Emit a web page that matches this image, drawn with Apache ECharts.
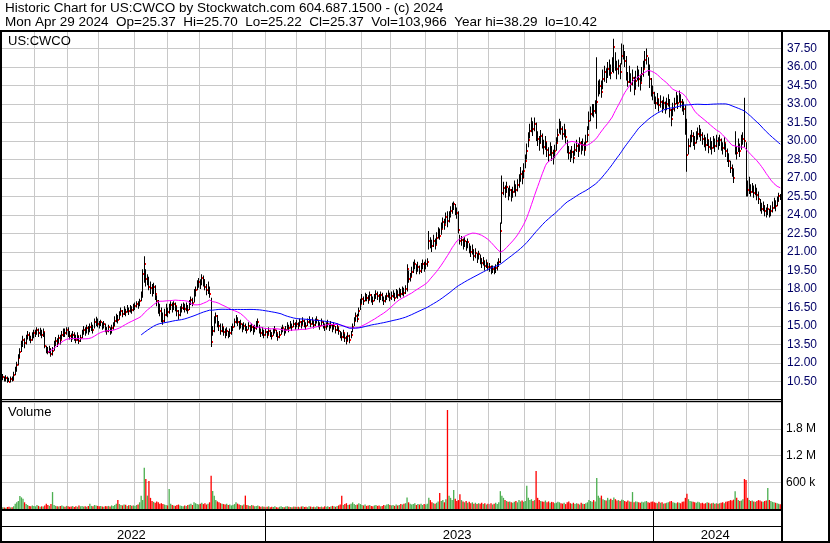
<!DOCTYPE html>
<html><head><meta charset="utf-8">
<script src="https://cdn.jsdelivr.net/npm/echarts@6/dist/echarts.min.js"></script>
<style>html,body{margin:0;padding:0;background:#fff}#c{width:830px;height:543px}</style>
</head><body><div id="c"></div>
<script>
// ---- calendar (trading days) ----
const firstDay = '2022-05-02', lastDay = '2024-04-29';
const holidays = ['2022-05-30','2022-06-20','2022-07-04','2022-09-05','2022-11-24','2022-12-26',
 '2023-01-02','2023-01-16','2023-02-20','2023-04-07','2023-05-29','2023-06-19','2023-07-04','2023-09-04','2023-11-23','2023-12-25',
 '2024-01-01','2024-01-15','2024-02-19','2024-03-29'];
const yearLabels = ['2022','2023','2024'];
const priceTicks = {min: 9, max: 39, step: 1.5};
const volumeTicks = {min: 0, max: 2400000, step: 600000};

// ---- daily values, one row per month ----
const closePx = [
10.9,10.7,10.8,10.6,10.5,10.7,10.6,11.0,11.4,11.8,12.4,12.9,13.4,13.9,13.6,14.0,14.3,14.1,13.9,14.2,14.4,
14.5,14.7,14.4,14.6,14.3,14.5,13.4,13.0,12.9,13.1,12.7,13.0,13.5,13.8,13.6,14.0,13.9,14.3,14.5,14.4,14.7,
14.5,14.2,14.0,14.3,14.1,13.9,14.2,13.8,14.0,14.4,14.7,14.5,14.8,14.6,14.9,15.0,14.7,15.3,15.5,15.2,
15.1,15.3,14.9,15.2,14.8,14.6,14.9,14.5,14.8,15.0,15.4,15.7,15.5,15.9,16.2,16.0,16.3,16.1,16.4,16.2,16.5,16.3,16.5,
16.6,16.8,16.7,17.0,17.4,19.2,20.0,18.8,18.9,18.2,18.1,17.9,18.2,17.6,17.0,16.6,16.2,15.8,15.4,15.9,16.3,
16.1,16.5,16.7,16.4,16.8,16.6,16.2,15.9,16.3,16.5,16.7,16.4,16.6,16.3,16.8,17.1,16.9,17.5,17.9,18.3,18.6,
18.4,18.9,18.7,18.2,17.9,18.1,17.6,13.7,14.6,15.5,15.8,15.3,15.0,14.6,14.9,14.5,14.3,14.6,14.2,14.4,14.7,
14.9,15.3,15.6,15.3,15.0,15.2,14.8,15.0,14.9,14.7,15.0,14.8,14.9,14.6,14.8,15.1,15.3,14.7,14.4,14.6,14.3,
14.5,14.3,14.6,14.4,14.2,14.5,14.7,14.4,14.1,14.3,14.6,14.8,14.5,14.7,15.0,14.8,15.1,14.9,15.2,15.0,
15.2,15.0,15.3,15.1,15.4,15.2,15.0,15.3,15.5,15.2,15.4,15.1,15.3,15.5,15.2,15.0,15.3,15.1,14.9,
15.0,15.2,14.9,15.1,14.8,15.0,14.7,14.9,14.6,14.3,14.1,14.4,14.0,13.8,14.2,13.9,14.3,14.9,15.4,15.8,15.6,16.2,16.8,
17.2,17.0,17.4,17.3,17.1,17.5,17.2,17.0,17.3,17.6,17.4,17.2,17.5,17.3,17.0,17.2,17.4,17.6,17.3,
17.4,17.6,17.3,17.7,17.5,17.8,17.6,17.9,17.7,18.0,19.6,18.8,19.0,19.4,19.8,20.0,19.6,19.8,19.5,19.7,20.0,19.8,
20.0,20.2,21.9,21.7,21.5,21.9,21.6,22.1,22.6,22.3,22.9,23.4,23.2,23.8,23.5,23.9,24.3,24.6,24.9,24.5,24.2,
22.8,21.9,22.0,21.6,21.9,21.5,21.8,21.3,21.0,21.2,20.7,20.9,20.5,20.8,20.4,20.1,20.3,19.9,20.1,19.8,
19.8,19.5,19.6,19.4,19.7,19.9,20.2,22.7,25.8,26.2,25.9,26.3,25.7,26.0,25.6,25.9,26.3,26.0,26.4,26.8,27.3,27.0,27.6,
28.4,29.2,30.1,30.8,31.3,31.0,31.4,30.4,30.2,29.8,30.4,30.0,29.5,29.9,29.3,28.9,29.4,29.0,28.7,29.2,
29.8,30.5,31.2,31.0,30.6,30.9,30.3,29.5,29.0,28.7,29.1,28.6,29.3,29.6,29.2,29.8,29.4,29.7,29.3,29.9,30.5,31.6,
32.2,32.6,32.4,32.8,33.2,34.2,34.5,34.0,35.0,35.6,35.2,35.8,36.0,35.5,36.2,37.6,36.4,35.8,36.1,35.6,36.9,
37.2,36.5,35.4,34.8,35.3,34.6,35.1,34.2,34.9,35.5,35.0,34.7,35.4,35.8,36.6,36.9,35.9,35.0,34.2,33.9,
33.5,33.1,33.4,32.9,33.2,32.8,33.1,32.7,33.0,33.3,32.5,31.8,32.6,33.0,33.5,33.1,33.6,33.2,32.9,32.6,31.0,
28.9,29.6,30.0,30.4,30.1,29.8,30.3,30.6,30.9,30.5,30.2,30.0,29.7,30.1,29.5,29.8,29.4,29.9,29.6,30.0,
29.8,30.1,29.7,29.4,29.8,29.2,28.8,28.4,27.8,27.6,27.0,29.4,29.0,29.6,29.2,29.9,30.2,30.0,26.4,26.0,
26.3,25.9,26.2,25.8,26.0,25.6,25.3,24.8,24.5,24.7,24.3,24.1,24.5,24.0,24.3,24.6,24.9,24.7,25.1,25.5,25.37];
const highPx = [
11.1,10.9,11.0,10.9,10.8,10.9,10.9,11.3,11.7,12.1,12.7,13.2,13.8,14.2,14.0,14.3,14.6,14.5,14.2,14.5,14.7,
14.7,14.9,14.8,14.85,14.7,14.8,14.5,13.4,13.3,13.4,13.2,13.3,13.8,14.1,14.0,14.3,14.3,14.6,14.8,14.8,14.9,
14.9,14.6,14.4,14.6,14.5,14.3,14.5,14.2,14.3,14.7,15.0,14.9,15.1,15.0,15.2,15.3,15.1,15.6,15.75,15.6,
15.4,15.5,15.3,15.4,15.2,14.9,15.1,14.9,15.1,15.3,15.8,16.0,15.9,16.2,16.5,16.3,16.6,16.4,16.7,16.5,16.7,16.6,16.8,
16.9,17.0,17.0,17.2,17.8,19.6,20.65,19.6,19.2,19.0,18.6,18.4,18.5,18.3,17.5,17.1,16.8,16.5,16.1,16.4,16.8,
16.5,16.8,17.0,16.9,17.0,16.9,16.6,16.3,16.6,16.8,16.9,16.8,16.9,16.7,17.1,17.4,17.3,18.0,18.2,18.7,18.9,
18.8,19.2,19.1,18.8,18.4,18.6,18.2,17.3,15.0,15.8,16.1,15.9,15.4,15.2,15.2,14.9,14.8,14.9,14.6,14.8,15.0,
15.2,15.6,15.9,15.7,15.4,15.5,15.2,15.3,15.2,15.0,15.3,15.1,15.2,15.0,15.1,15.4,15.6,15.1,14.8,14.9,14.7,
14.8,14.6,14.9,14.7,14.5,14.8,15.0,14.7,14.4,14.6,14.9,15.1,14.8,15.0,15.3,15.1,15.4,15.2,15.5,15.3,
15.5,15.3,15.6,15.4,15.7,15.5,15.3,15.6,15.8,15.5,15.7,15.4,15.6,15.8,15.5,15.3,15.6,15.4,15.2,
15.3,15.5,15.2,15.4,15.1,15.3,15.0,15.2,14.9,14.6,14.5,14.7,14.4,14.2,14.5,14.3,14.6,15.2,15.7,16.1,16.0,16.5,17.2,
17.6,17.4,17.7,17.6,17.5,17.8,17.6,17.4,17.6,17.9,17.8,17.6,17.8,17.7,17.4,17.5,17.7,17.9,17.7,
17.8,17.9,17.7,18.0,17.9,18.1,18.0,18.2,18.1,18.3,20.0,19.5,19.3,19.8,20.2,20.4,20.0,20.2,19.9,20.1,20.4,20.2,
20.4,20.5,22.7,22.2,22.0,22.4,22.1,22.6,23.0,22.9,23.4,23.8,23.7,24.2,24.3,24.3,24.7,25.0,25.1,24.9,24.6,
24.3,22.4,22.3,22.1,22.2,21.9,22.1,21.7,21.5,21.6,21.2,21.3,20.9,21.1,20.8,20.5,20.6,20.3,20.4,20.1,
20.1,19.9,19.9,19.8,20.0,20.2,20.5,23.4,27.2,26.7,26.4,26.7,26.2,26.4,26.1,26.3,26.8,26.5,26.9,27.3,27.9,27.6,28.2,
28.9,29.8,30.7,31.4,31.9,31.6,31.9,31.5,30.8,30.4,30.9,30.6,30.1,30.4,29.9,29.5,29.9,29.6,29.3,29.7,
30.3,31.0,31.8,31.6,31.2,31.4,30.9,30.1,29.6,29.3,29.6,29.2,29.8,30.1,29.8,30.3,30.0,30.2,29.9,30.5,31.2,32.4,
32.8,33.0,33.0,33.3,36.8,34.9,35.0,34.9,35.8,36.1,35.9,36.4,36.6,36.2,36.8,38.29,37.2,36.5,36.6,36.3,37.9,
37.8,37.3,36.9,35.6,36.1,35.5,35.8,35.2,35.7,36.1,35.8,35.4,36.0,36.5,37.3,37.5,36.8,36.2,35.1,34.5,
34.0,33.6,33.9,33.4,33.7,33.3,33.6,33.2,33.5,33.8,33.4,32.6,33.1,33.5,34.0,33.7,34.1,33.8,33.4,33.2,32.9,
31.8,30.2,30.5,30.9,30.7,30.4,30.8,31.1,31.3,31.0,30.7,30.5,30.3,30.6,30.1,30.3,30.0,30.4,30.2,30.5,
30.3,30.5,30.2,29.9,30.3,29.8,29.4,29.0,28.4,28.1,27.8,30.8,29.6,30.2,29.8,30.5,30.7,33.5,29.9,26.8,
27.1,26.5,26.6,26.4,26.5,26.2,25.9,25.3,25.0,25.1,24.8,24.6,24.9,24.5,24.8,25.1,25.4,25.2,25.5,25.8,25.70];
const lowPx = [
10.6,10.5,10.5,10.4,10.45,10.42,10.5,10.6,11.0,11.3,11.8,12.4,12.9,13.3,13.2,13.5,13.9,13.8,13.6,13.8,14.0,
14.1,14.3,14.1,14.2,14.0,14.1,13.2,12.8,12.7,12.8,12.5,12.6,13.0,13.4,13.3,13.6,13.5,13.9,14.1,14.1,14.3,
14.1,13.9,13.7,13.9,13.8,13.6,13.8,13.55,13.7,14.0,14.3,14.2,14.4,14.3,14.5,14.6,14.4,14.8,15.0,14.9,
14.8,15.0,14.7,14.8,14.5,14.3,14.5,14.3,14.4,14.7,15.0,15.3,15.2,15.5,15.9,15.7,15.9,15.8,16.1,15.9,16.1,16.0,16.2,
16.3,16.5,16.4,16.6,17.0,17.3,18.5,18.2,18.3,17.9,17.6,17.4,17.6,17.1,16.6,16.0,15.8,15.3,15.1,15.3,15.8,
15.7,16.0,16.3,16.1,16.3,16.2,15.8,15.5,15.8,16.1,16.3,16.1,16.2,16.0,16.3,16.7,16.6,16.9,17.4,17.9,18.1,
18.0,18.3,18.2,17.9,17.5,17.6,17.3,13.3,14.2,14.5,15.2,14.9,14.6,14.3,14.5,14.2,14.0,14.2,14.0,14.1,14.3,
14.6,14.9,15.2,15.0,14.7,14.8,14.5,14.7,14.6,14.4,14.7,14.5,14.6,14.3,14.5,14.7,14.9,14.4,14.1,14.2,14.0,
14.2,14.0,14.3,14.1,13.9,14.2,14.4,14.1,13.8,14.0,14.3,14.5,14.2,14.4,14.7,14.5,14.8,14.6,14.9,14.7,
14.9,14.7,15.0,14.8,15.1,14.9,14.7,15.0,15.2,14.9,15.1,14.8,15.0,15.2,14.9,14.7,15.0,14.8,14.6,
14.7,14.9,14.6,14.8,14.5,14.7,14.4,14.6,14.3,14.0,13.8,14.0,13.7,13.5,13.8,13.6,14.0,14.5,15.0,15.4,15.3,15.8,16.3,
16.8,16.7,17.0,17.0,16.8,17.1,16.9,16.7,17.0,17.2,17.1,16.9,17.1,17.0,16.7,16.9,17.1,17.3,17.0,
17.1,17.3,17.0,17.3,17.2,17.4,17.3,17.5,17.4,17.6,17.8,18.5,18.6,19.0,19.3,19.6,19.2,19.4,19.2,19.3,19.6,19.4,
19.6,19.8,21.2,21.3,21.0,21.4,21.2,21.6,22.1,22.0,22.4,22.9,22.8,23.3,23.0,23.4,23.8,24.1,24.4,24.0,23.7,
22.5,21.6,21.5,21.2,21.4,21.1,21.3,20.9,20.6,20.8,20.3,20.5,20.1,20.4,20.0,19.7,19.9,19.5,19.7,19.5,
19.4,19.2,19.3,19.2,19.3,19.5,19.8,20.1,23.3,25.6,25.4,25.8,25.2,25.5,25.1,25.4,25.8,25.5,25.9,26.2,26.7,26.5,27.0,
27.8,28.5,29.5,30.2,30.7,30.4,30.8,30.0,29.6,29.2,29.8,29.4,28.9,29.3,28.7,28.3,28.8,28.4,28.1,28.6,
29.2,29.9,30.6,30.5,30.1,30.3,29.8,29.0,28.5,28.3,28.6,28.2,28.8,29.1,28.7,29.2,28.9,29.2,28.8,29.3,29.9,30.9,
31.6,32.0,31.9,32.2,31.0,33.6,33.8,33.5,34.2,34.8,34.7,35.1,35.3,35.0,35.6,35.5,35.7,35.0,35.4,35.0,36.2,
36.6,36.0,34.9,34.4,34.7,34.0,34.5,33.7,34.2,34.9,34.4,34.1,34.8,35.2,35.9,36.2,35.3,34.3,33.6,33.3,
33.0,32.6,32.9,32.4,32.7,32.3,32.6,32.2,32.5,32.8,31.9,31.2,32.0,32.4,33.0,32.6,33.1,32.7,32.4,32.1,30.5,
27.5,28.9,29.5,29.9,29.6,29.3,29.8,30.1,30.3,30.0,29.7,29.5,29.2,29.6,29.0,29.3,28.9,29.4,29.1,29.5,
29.3,29.6,29.2,28.9,29.3,28.7,28.3,27.9,27.4,27.1,26.6,28.9,28.5,29.1,28.7,29.3,29.7,29.5,25.5,25.5,
25.7,25.5,25.8,25.4,25.6,25.2,24.9,24.3,24.1,24.3,23.9,23.8,24.0,23.8,23.9,24.2,24.5,24.3,24.7,25.1,25.22];
// volume in thousands of shares
const volumeK = [
40,35,30,45,50,35,40,60,120,150,180,290,260,230,150,110,90,70,60,80,70,
60,90,70,50,60,55,80,120,90,70,110,380,90,70,60,55,70,80,60,50,70,
60,50,55,70,45,60,50,80,60,70,55,60,50,65,120,70,60,90,80,70,
60,70,55,50,65,60,70,55,80,65,90,120,200,110,90,80,100,95,70,85,90,75,80,
70,90,100,150,300,200,926,673,300,628,250,180,160,140,170,150,120,130,110,100,90,
80,449,120,90,80,70,90,100,80,70,60,80,70,90,100,120,90,150,130,110,100,
120,140,110,130,100,120,150,747,404,300,200,170,150,130,120,110,100,120,90,100,80,
90,110,150,120,100,90,80,100,300,90,80,70,90,80,60,70,80,60,50,60,50,
40,50,60,40,50,45,60,40,35,50,60,45,40,55,60,50,45,40,55,50,
45,50,40,55,60,45,50,40,60,55,45,50,40,60,50,45,55,40,60,
50,60,45,55,70,60,50,65,80,100,300,90,110,130,90,100,120,150,110,90,100,130,110,
90,80,100,70,80,90,70,60,80,90,70,80,60,70,90,80,100,110,90,
80,90,70,100,80,90,110,100,120,130,260,150,120,100,110,130,90,110,100,120,90,110,
100,120,250,200,150,130,120,140,170,360,180,200,150,220,2220,300,250,200,426,230,180,
200,330,200,170,150,180,140,160,130,150,120,140,110,130,120,140,110,130,100,120,
110,130,100,120,140,110,150,400,300,250,200,180,160,170,150,140,160,180,150,200,170,190,160,
180,520,250,200,220,180,200,850,250,200,180,170,160,190,150,170,140,160,150,130,
140,160,150,130,120,140,110,150,170,130,120,140,110,130,120,100,140,120,110,130,150,200,
180,160,200,170,695,300,250,300,220,200,190,250,210,230,200,260,220,190,200,180,210,
200,180,160,190,170,160,380,150,170,160,150,140,160,150,170,180,150,140,160,170,
150,140,130,160,140,150,120,130,140,150,170,180,150,140,130,150,140,130,160,170,250,
340,220,180,170,160,150,140,160,150,130,140,120,130,150,140,120,130,140,120,130,
120,130,140,150,130,160,170,180,200,190,210,400,250,200,180,190,220,673,650,250,
200,180,190,170,160,180,200,190,170,160,180,190,470,200,180,160,150,140,130,120,103.966];

// ---- build categories ----
const days = [];
(function(){
  const hs = new Set(holidays);
  const d = new Date(firstDay + 'T12:00:00Z'), end = new Date(lastDay + 'T12:00:00Z');
  while (d <= end) {
    const wd = d.getUTCDay(), s = d.toISOString().slice(0,10);
    if (wd !== 0 && wd !== 6 && !hs.has(s)) days.push(s);
    d.setUTCDate(d.getUTCDate() + 1);
  }
})();
const N = Math.min(days.length, closePx.length);
const monthStart = new Set();
for (let i = 1; i < N; i++) if (days[i].slice(0,7) !== days[i-1].slice(0,7)) monthStart.add(i);

function sma(arr, n) {
  return arr.map((v, i) => {
    if (i < n - 1) return null;
    let s = 0; for (let k = i - n + 1; k <= i; k++) s += arr[k];
    return +(s / n).toFixed(3);
  });
}
const ma30 = sma(closePx.slice(0, N), 30);
const ma90 = sma(closePx.slice(0, N), 90);

const ohlc = [];
for (let i = 0; i < N; i++) ohlc.push([i, lowPx[i], highPx[i], closePx[i]]);
const RED = '#ff0000', GREEN = '#4caf50', GRAY = '#a0a0a0';
const volData = [];
for (let i = 0; i < N; i++) {
  const up = i === 0 || closePx[i] > closePx[i-1];
  const dn = i > 0 && closePx[i] < closePx[i-1];
  volData.push({value: Math.round(volumeK[i] * 1000), itemStyle: {color: up ? GREEN : (dn ? RED : GRAY)}});
}
const years = [];
yearLabels.forEach(y => {
  let s = -1, e = -1;
  for (let i = 0; i < N; i++) if (days[i].slice(0,4) === y) { if (s < 0) s = i; e = i; }
  if (s >= 0) years.push([s, e, y]);
});

const FONT = "'Liberation Sans', Arial, sans-serif";
const GRIDC = '#c8c8c8';
const chart = echarts.init(document.getElementById('c'), null, {renderer: 'canvas'});

const xBase = {
  type: 'category', data: days.slice(0, N), boundaryGap: true,
  axisLine: {show: false}, axisTick: {show: false}, axisLabel: {show: false}
};
const option = {
  animation: false,
  backgroundColor: '#ffffff',
  grid: [
    {left: 2, top: 30, width: 779, height: 370, outerBoundsMode: 'none', containLabel: false},
    {left: 2, top: 402, width: 779, height: 107, outerBoundsMode: 'none', containLabel: false},
    {left: 2, top: 510, width: 779, height: 32, outerBoundsMode: 'none', containLabel: false}
  ],
  xAxis: [
    Object.assign({}, xBase, {gridIndex: 0, splitLine: {show: true, interval: (i) => monthStart.has(i), lineStyle: {color: GRIDC, width: 1}}}),
    Object.assign({}, xBase, {gridIndex: 1, splitLine: {show: true, interval: (i) => monthStart.has(i), lineStyle: {color: GRIDC, width: 1}}}),
    Object.assign({}, xBase, {gridIndex: 2, splitLine: {show: false}})
  ],
  yAxis: [
    {type: 'value', gridIndex: 0, position: 'right', min: priceTicks.min, max: priceTicks.max, interval: priceTicks.step,
     axisLine: {show: false}, axisTick: {show: false},
     splitLine: {show: true, lineStyle: {color: GRIDC, width: 1}},
     axisLabel: {show: true, margin: 6, showMinLabel: false, showMaxLabel: false, color: '#000066',
       fontFamily: FONT, fontSize: 12, formatter: v => v.toFixed(2)}},
    {type: 'value', gridIndex: 1, position: 'right', min: volumeTicks.min, max: volumeTicks.max, interval: volumeTicks.step,
     axisLine: {show: false}, axisTick: {show: false},
     splitLine: {show: true, lineStyle: {color: GRIDC, width: 1}},
     axisLabel: {show: true, margin: 5, showMinLabel: false, showMaxLabel: false, color: '#000000',
       fontFamily: FONT, fontSize: 12, formatter: v => v >= 1e6 ? (v/1e6).toFixed(1) + ' M' : Math.round(v/1000) + ' k'}},
    {type: 'value', gridIndex: 2, min: 0, max: 1, show: false}
  ],
  series: [
    {type: 'custom', name: 'OHLC', xAxisIndex: 0, yAxisIndex: 0, data: ohlc, encode: {x: 0, y: [1, 2, 3]}, z: 3,
     renderItem: function (params, api) {
       const i = api.value(0);
       const lo = api.coord([i, api.value(1)]);
       const hi = api.coord([i, api.value(2)]);
       const cl = api.coord([i, api.value(3)]);
       const cx = Math.round(lo[0] - 0.5);
       return {type: 'group', children: [
         {type: 'rect', shape: {x: cx, y: hi[1], width: 1, height: Math.max(1, lo[1] - hi[1])}, style: {fill: '#000000'}},
         {type: 'rect', shape: {x: cx + 1, y: Math.round(cl[1]) - 1, width: 1, height: 2}, style: {fill: RED}}
       ]};
     }},
    {type: 'line', name: 'MA30', xAxisIndex: 0, yAxisIndex: 0, data: ma30, showSymbol: false, symbol: 'none', z: 4,
     lineStyle: {color: '#ff00ff', width: 1}},
    {type: 'line', name: 'MA90', xAxisIndex: 0, yAxisIndex: 0, data: ma90, showSymbol: false, symbol: 'none', z: 4,
     lineStyle: {color: '#0000ff', width: 1}},
    {type: 'bar', name: 'Volume', xAxisIndex: 1, yAxisIndex: 1, data: volData, barCategoryGap: '15%', z: 3},
    {type: 'custom', name: 'Years', xAxisIndex: 2, yAxisIndex: 2, data: years, encode: {x: [0, 1]}, z: 5,
     renderItem: function (params, api) {
       const s = api.value(0), e = api.value(1);
       const w = api.size([1, 0])[0];
       const xs = api.coord([s, 0])[0] - w / 2;
       const xe = api.coord([e, 0])[0] + w / 2;
       const top = api.coord([s, 1])[1], bot = api.coord([s, 0])[1];
       const children = [
         {type: 'text', style: {text: String(years[params.dataIndex][2]), x: (xs + xe) / 2 - 2, y: bot - 7,
           align: 'center', verticalAlign: 'middle', fill: '#000000', font: '13px ' + FONT}}
       ];
       if (params.dataIndex > 0) {
         const xx = Math.round(xs) + 0.5;
         children.push({type: 'line', shape: {x1: xx, y1: top, x2: xx, y2: bot}, style: {stroke: '#000000', lineWidth: 1}});
       }
       return {type: 'group', children: children};
     }}
  ],
  graphic: [
    {type: 'text', left: 5, top: 1, z: 100, style: {text: 'Historic Chart for US:CWCO by Stockwatch.com 604.687.1500 - (c) 2024', font: '13.5px ' + FONT, fill: '#000000'}},
    {type: 'text', left: 5, top: 15, z: 100, style: {text: 'Mon Apr 29 2024  Op=25.37  Hi=25.70  Lo=25.22  Cl=25.37  Vol=103,966  Year hi=38.29  lo=10.42', font: '13.5px ' + FONT, fill: '#000000'}},
    {type: 'text', left: 8, top: 35, z: 100, style: {text: 'US:CWCO', font: '13px ' + FONT, fill: '#000000'}},
    {type: 'text', left: 8, top: 406, z: 100, style: {text: 'Volume', font: '13px ' + FONT, fill: '#000000'}},
    {type: 'rect', z: 100, shape: {x: 0, y: 30, width: 830, height: 2}, style: {fill: '#000'}},
    {type: 'rect', z: 100, shape: {x: 0, y: 30, width: 2, height: 513}, style: {fill: '#000'}},
    {type: 'rect', z: 100, shape: {x: 781, y: 30, width: 2, height: 513}, style: {fill: '#000'}},
    {type: 'rect', z: 100, shape: {x: 828, y: 30, width: 2, height: 513}, style: {fill: '#000'}},
    {type: 'rect', z: 100, shape: {x: 0, y: 399, width: 782, height: 1}, style: {fill: '#000'}},
    {type: 'rect', z: 100, shape: {x: 0, y: 401, width: 782, height: 1}, style: {fill: '#000'}},
    {type: 'rect', z: 100, shape: {x: 0, y: 509, width: 782, height: 2}, style: {fill: '#000'}},
    {type: 'rect', z: 100, shape: {x: 0, y: 526, width: 782, height: 1}, style: {fill: '#000'}},
    {type: 'rect', z: 100, shape: {x: 0, y: 541, width: 830, height: 2}, style: {fill: '#000'}}
  ]
};
chart.setOption(option);
</script></body></html>
